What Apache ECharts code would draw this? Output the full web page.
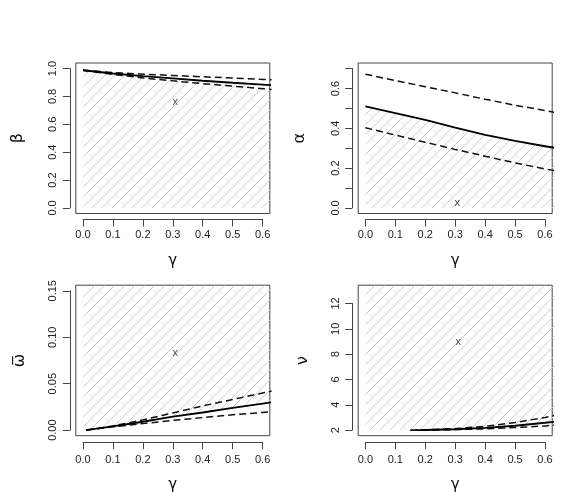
<!DOCTYPE html>
<html><head><meta charset="utf-8">
<script src="https://cdn.jsdelivr.net/npm/echarts@6/dist/echarts.min.js"></script>
<style>html,body{margin:0;padding:0;background:#fff}#c{width:562px;height:492px}</style>
</head><body><div id="c"></div>
<script>
// ---- data ----
const gammaTicks = [0, 0.6, 0.1];

const betaX     = [0, 0.1, 0.2, 0.3, 0.4, 0.5, 0.6, 0.63];
const betaFit   = [0.988, 0.965, 0.946, 0.930, 0.913, 0.898, 0.885, 0.881];
const betaUpper = [0.988, 0.972, 0.960, 0.951, 0.941, 0.932, 0.922, 0.919];
const betaLower = [0.988, 0.958, 0.933, 0.912, 0.892, 0.874, 0.856, 0.850];
const betaMark  = [0.308, 0.763];

const alphaX     = [0, 0.1, 0.2, 0.3, 0.4, 0.5, 0.6, 0.63];
const alphaFit   = [0.510, 0.476, 0.442, 0.403, 0.367, 0.337, 0.310, 0.302];
const alphaUpper = [0.672, 0.640, 0.609, 0.578, 0.546, 0.516, 0.489, 0.481];
const alphaLower = [0.403, 0.366, 0.330, 0.294, 0.260, 0.226, 0.196, 0.188];
const alphaMark  = [0.307, 0.025];

const omegaX     = [0.01, 0.1, 0.2, 0.3, 0.4, 0.5, 0.6, 0.63];
const omegaFit   = [0, 0.004, 0.009, 0.0145, 0.019, 0.024, 0.0285, 0.030];
const omegaUpper = [0, 0.0045, 0.011, 0.0185, 0.026, 0.033, 0.040, 0.042];
const omegaLower = [0, 0.0035, 0.007, 0.0105, 0.0135, 0.0165, 0.019, 0.020];
const omegaMark  = [0.308, 0.083];

const nuFitX  = [0.17, 0.2, 0.3, 0.4, 0.5, 0.6, 0.63];
const nuFit   = [2.0, 2.01, 2.07, 2.18, 2.35, 2.58, 2.65];
const nuBandX = [0.15, 0.2, 0.3, 0.4, 0.5, 0.6, 0.63];
const nuUpper = [2.0, 2.03, 2.12, 2.30, 2.60, 3.00, 3.15];
const nuLower = [2.0, 2.00, 2.04, 2.10, 2.20, 2.33, 2.39];
const nuMark  = [0.31, 8.94];
const nuFloor = 2;

// ---- hatch pattern ----
function hatch() {
  const s = 10, c = document.createElement('canvas');
  c.width = s; c.height = s;
  const g = c.getContext('2d');
  g.strokeStyle = '#c8c8c8'; g.lineWidth = 0.9;
  g.beginPath();
  g.moveTo(-2, s + 2); g.lineTo(s + 2, -2);
  g.moveTo(-2, 2); g.lineTo(2, -2);
  g.moveTo(s - 2, s + 2); g.lineTo(s + 2, s - 2);
  g.stroke();
  return {image: c, repeat: 'repeat'};
}
const HATCH = hatch();

const zip = (xs, ys) => xs.map((x, i) => [x, ys[i]]);
const FONT = 'Liberation Sans';

const panels = [
  {box: {l: 75.8, t: 63, w: 194, h: 150.5}, xr: [-0.024, 0.624], yr: [-0.04, 1.04],
   yAx: [0, 1, 0.2], yfmt: v => v.toFixed(1), yname: 'β', xgap: 40, ygap: 50, xoff: 6, xmargin: 10,
   region: zip(betaX, betaFit), origin: 'auto',
   fit: zip(betaX, betaFit), up: zip(betaX, betaUpper), lo: zip(betaX, betaLower), mark: betaMark},
  {box: {l: 358.2, t: 63, w: 194, h: 150.5}, xr: [-0.024, 0.624], yr: [-0.028, 0.728],
   yAx: [0, 0.7, 0.1], yfmt: v => (Math.round(v * 10) % 2 === 0 ? v.toFixed(1) : ''), yname: 'α', xgap: 40, ygap: 50, xoff: 6, xmargin: 10,
   region: zip(alphaX, alphaFit), origin: 'auto',
   fit: zip(alphaX, alphaFit), up: zip(alphaX, alphaUpper), lo: zip(alphaX, alphaLower), mark: alphaMark},
  {box: {l: 75.8, t: 285.2, w: 194, h: 150.5}, xr: [-0.024, 0.624], yr: [-0.006, 0.156],
   yAx: [0, 0.15, 0.05], yfmt: v => v.toFixed(2), yname: 'ω\u0305', xgap: 42, ygap: 48, xoff: 6.5, xmargin: 12,
   region: [[0, omegaFit[0]]].concat(zip(omegaX, omegaFit)), origin: 'end',
   fit: zip(omegaX, omegaFit), up: zip(omegaX, omegaUpper), lo: zip(omegaX, omegaLower), mark: omegaMark},
  {box: {l: 358.2, t: 285.2, w: 194, h: 150.5}, xr: [-0.024, 0.624], yr: [1.56, 13.44],
   yAx: [2, 12, 2], yfmt: v => String(v), yname: 'ν', xgap: 42, ygap: 47, xoff: 6.5, xmargin: 12,
   region: [[0, nuFloor]].concat(zip(nuFitX, nuFit)), origin: 'end',
   fit: zip(nuFitX, nuFit), up: zip(nuBandX, nuUpper), lo: zip(nuBandX, nuLower), mark: nuMark}
];

const grid = [], xAxis = [], yAxis = [], series = [];
const AXC = '#444';
const hidden = {show: true, axisLine: {show: false}, axisTick: {show: false}, axisLabel: {show: false}, splitLine: {show: false}};
panels.forEach((p, i) => {
  const b = p.box, off = 6;
  const gb = 3 * i, gx = 3 * i + 1, gy = 3 * i + 2;
  const xa = [gammaTicks[0], gammaTicks[1]];
  const gl = b.l + (xa[0] - p.xr[0]) / (p.xr[1] - p.xr[0]) * b.w;
  const gw = (xa[1] - xa[0]) / (p.xr[1] - p.xr[0]) * b.w;
  const gt = b.t + (p.yr[1] - p.yAx[1]) / (p.yr[1] - p.yr[0]) * b.h;
  const gh = (p.yAx[1] - p.yAx[0]) / (p.yr[1] - p.yr[0]) * b.h;
  const common = {outerBoundsMode: 'none', containLabel: false};
  // plotting box
  grid.push(Object.assign({left: b.l, top: b.t, width: b.w, height: b.h, show: true,
    borderColor: AXC, borderWidth: 1, backgroundColor: 'transparent'}, common));
  // grid carrying the detached x axis (tick range only)
  grid.push(Object.assign({left: gl, top: b.t, width: gw, height: b.h + p.xoff, show: false}, common));
  // grid carrying the detached y axis
  grid.push(Object.assign({left: b.l - off, top: gt, width: b.w + off, height: gh, show: false}, common));

  // box axes (names only)
  xAxis.push(Object.assign({}, hidden, {type: 'value', gridIndex: gb, min: p.xr[0], max: p.xr[1],
    name: 'γ', nameLocation: 'middle', nameGap: p.xgap,
    nameTextStyle: {fontFamily: 'DejaVu Sans', fontSize: 15, color: '#111'}}));
  yAxis.push(Object.assign({}, hidden, {type: 'value', gridIndex: gb, min: p.yr[0], max: p.yr[1],
    name: p.yname, nameLocation: 'middle', nameGap: p.ygap, nameRotate: 90,
    nameTextStyle: {fontFamily: 'DejaVu Sans', fontSize: 16, color: '#111'}}));

  // x axis grid
  xAxis.push({type: 'value', gridIndex: gx, min: gammaTicks[0], max: gammaTicks[1], interval: gammaTicks[2],
    axisLine: {show: true, lineStyle: {color: AXC, width: 1}},
    axisTick: {show: true, length: 7, lineStyle: {color: AXC, width: 1}},
    axisLabel: {show: true, margin: p.xmargin, fontSize: 11, fontFamily: FONT, color: '#222',
      formatter: v => v.toFixed(1), showMinLabel: true, showMaxLabel: true, hideOverlap: false},
    splitLine: {show: false}});
  yAxis.push(Object.assign({}, hidden, {show: false, type: 'value', gridIndex: gx, min: 0, max: 1}));

  // y axis grid
  xAxis.push(Object.assign({}, hidden, {show: false, type: 'value', gridIndex: gy, min: 0, max: 1}));
  yAxis.push({type: 'value', gridIndex: gy, min: p.yAx[0], max: p.yAx[1], interval: p.yAx[2],
    axisLine: {show: true, lineStyle: {color: AXC, width: 1}},
    axisTick: {show: true, length: 7, lineStyle: {color: AXC, width: 1}},
    axisLabel: {show: true, margin: 11, fontSize: 11, fontFamily: FONT, color: '#222', rotate: 90,
      formatter: p.yfmt, showMinLabel: true, showMaxLabel: true, hideOverlap: false},
    splitLine: {show: false}});

  const ax = {xAxisIndex: gb, yAxisIndex: gb, clip: true, silent: true, animation: false};
  series.push(Object.assign({type: 'line', data: p.region, symbol: 'none', z: 1,
    lineStyle: {width: 0, opacity: 0}, areaStyle: {color: HATCH, opacity: 1, origin: p.origin}}, ax));
  series.push(Object.assign({type: 'line', data: p.up, symbol: 'none', z: 3,
    lineStyle: {color: '#111', width: 1.5, type: [7, 4]}}, ax));
  series.push(Object.assign({type: 'line', data: p.lo, symbol: 'none', z: 3,
    lineStyle: {color: '#111', width: 1.5, type: [7, 4]}}, ax));
  series.push(Object.assign({type: 'line', data: p.fit, symbol: 'none', z: 4,
    lineStyle: {color: '#000', width: 1.9}}, ax));
  series.push(Object.assign({type: 'scatter', data: [p.mark], symbolSize: 0, z: 5,
    label: {show: true, position: 'inside', formatter: 'x', fontSize: 11, fontFamily: FONT, color: '#222'}}, ax));
});

const chart = echarts.init(document.getElementById('c'), null, {renderer: 'canvas'});
chart.setOption({animation: false, backgroundColor: '#fff', grid, xAxis, yAxis, series});
</script>
</body></html>
